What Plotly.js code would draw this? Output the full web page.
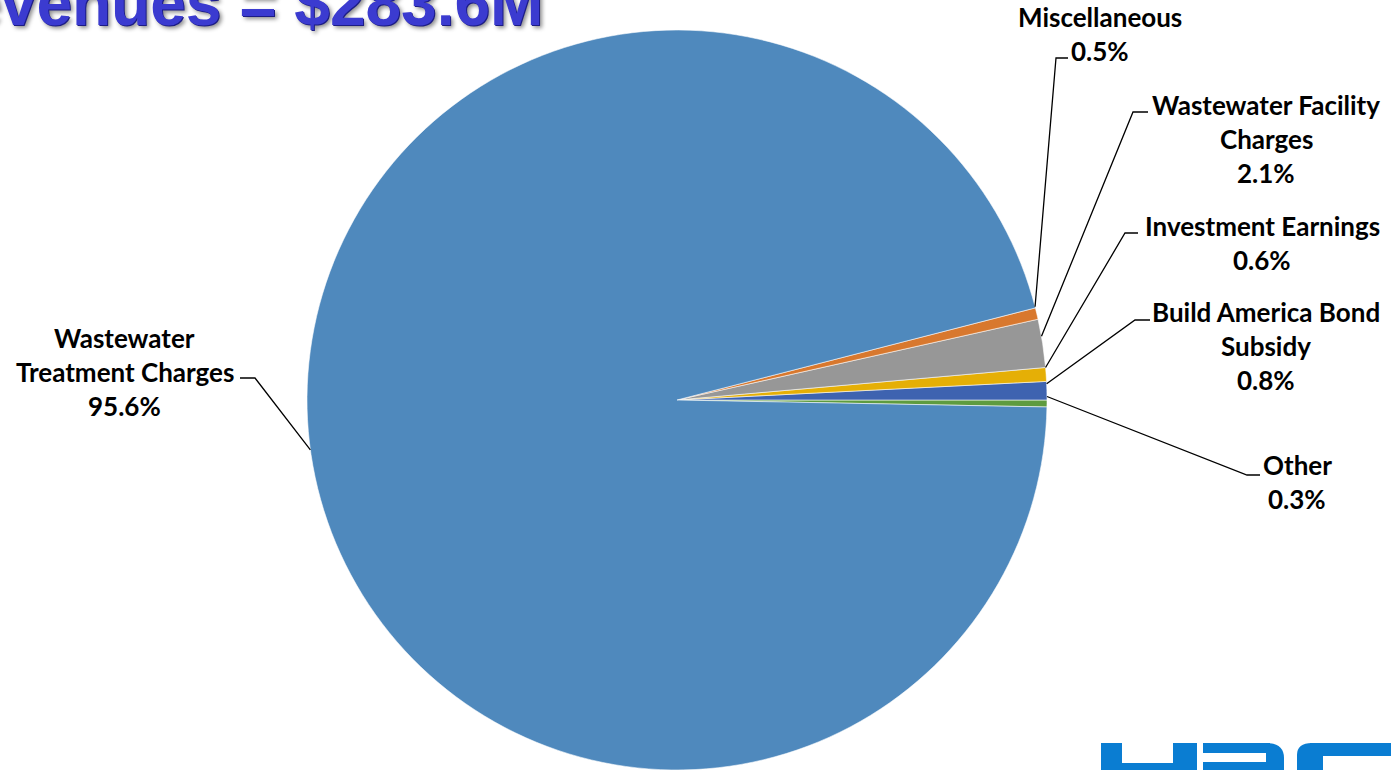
<!DOCTYPE html>
<html><head><meta charset="utf-8">
<script src="https://cdn.plot.ly/plotly-3.0.1.min.js"></script>
<style>html,body{margin:0;padding:0;overflow:hidden;background:#fff}#chart{width:1391px;height:770px}</style>
</head><body><div id="chart"></div>
<script>
// ---- data ----
const categories = ['Other','Build America Bond Subsidy','Investment Earnings','Wastewater Facility Charges','Miscellaneous','Wastewater Treatment Charges'];
const labelLines = [['Other'],['Build America Bond','Subsidy'],['Investment Earnings'],['Wastewater Facility','Charges'],['Miscellaneous'],['Wastewater','Treatment Charges']];
const values = [0.3, 0.8, 0.6, 2.1, 0.5, 95.6];
const sliceColors = ['#5E9B3F','#3E63B0','#E5AF06','#979797','#D8782E','#4F89BD'];
const titleText = 'Revenues = $283.6M';

// ---- layout geometry ----
const W = 1391, H = 770, M_T = 30;
const PIE_CX = 677, PIE_CY = 400, PIE_R = 370;
const px = x => x / W;
const py = y => 1 - (y - M_T) / (H - M_T);
// [text centre x, first line y, elbow x, elbow y, end x]
const labelPos = [
  [1297, 465, 1247, 475, 1260],
  [1266, 312, 1135, 320, 1150],
  [1262, 226, 1125, 233, 1138],
  [1266, 105, 1133, 112, 1148],
  [1100, 17, 1056, 58, 1068],
  [125, 338, 255, 378, 240]
];
const LINE_GAP = 34;
const labelFont = {family: 'Lato, "Open Sans", sans-serif', size: 26, color: '#000', weight: 700};

const total = values.reduce((a, b) => a + b, 0);
const shapes = [];
const annotations = [];
let cum = 0;
values.forEach((v, i) => {
  const mid = (cum + v / 2) / total * 2 * Math.PI;
  cum += v;
  const ax = PIE_CX + PIE_R * Math.cos(mid);
  const ay = PIE_CY - PIE_R * Math.sin(mid);
  const [tx, ty, ex, ey, endx] = labelPos[i];
  shapes.push({
    type: 'path', xref: 'paper', yref: 'paper',
    path: `M ${px(ax)},${py(ay)} L ${px(ex)},${py(ey)} L ${px(endx)},${py(ey)}`,
    line: {color: '#000', width: 1.3}
  });
  const lines = labelLines[i].concat([v.toFixed(1) + '%']);
  lines.forEach((t, j) => {
    annotations.push({
      xref: 'paper', yref: 'paper', x: px(tx), y: py(ty + LINE_GAP * j),
      xanchor: 'center', yanchor: 'middle', showarrow: false, text: t, font: labelFont
    });
  });
});

// title (cut off at the top-left, as in the slide)
annotations.push({
  xref: 'paper', yref: 'paper', x: px(545), y: py(41), xanchor: 'right', yanchor: 'bottom',
  showarrow: false, text: titleText,
  font: {family: '"Liberation Sans", Arial, sans-serif', size: 64, weight: 700, color: '#3B3BD0',
         shadow: '1px 1px 0 #1c1c85, 3px 3px 4px rgba(0,0,0,0.45)'}
});

// logo fragment (bottom right)
const logoBlue = '#0A7DD2';
const rect = (x0, y0, x1, y1) => ({type: 'rect', xref: 'paper', yref: 'paper', x0: px(x0), x1: px(x1), y0: py(y1), y1: py(y0), fillcolor: logoBlue, line: {width: 0}});
shapes.push(rect(1101, 743, 1122, 775), rect(1122, 763, 1173, 775), rect(1173, 743, 1197, 775));
shapes.push(rect(1203, 743, 1270, 753), rect(1203, 762, 1268, 775));
shapes.push({type: 'path', xref: 'paper', yref: 'paper', fillcolor: logoBlue, line: {width: 0},
  path: `M ${px(1266)},${py(743)} Q ${px(1284)},${py(743)} ${px(1284)},${py(758)} L ${px(1284)},${py(775)} L ${px(1266)},${py(775)} Z`});
shapes.push(rect(1310, 743, 1391, 756));
shapes.push({type: 'path', xref: 'paper', yref: 'paper', fillcolor: logoBlue, line: {width: 0},
  path: `M ${px(1297)},${py(775)} L ${px(1297)},${py(755)} Q ${px(1297)},${py(743)} ${px(1312)},${py(743)} L ${px(1323)},${py(743)} L ${px(1323)},${py(775)} Z`});

const trace = {
  type: 'pie', labels: categories, values: values, sort: false,
  direction: 'counterclockwise', rotation: 90,
  marker: {colors: sliceColors, line: {color: 'rgba(255,255,255,0.7)', width: 0.8}},
  textinfo: 'none', hoverinfo: 'label+percent',
  domain: {x: [PIE_CX / W - 0.3, PIE_CX / W + 0.3], y: [0, 1]}
};

Plotly.newPlot('chart', [trace], {
  width: W, height: H, margin: {l: 0, r: 0, t: M_T, b: 0},
  paper_bgcolor: '#fff', showlegend: false,
  shapes: shapes, annotations: annotations
}, {displayModeBar: false, staticPlot: true});
</script></body></html>
